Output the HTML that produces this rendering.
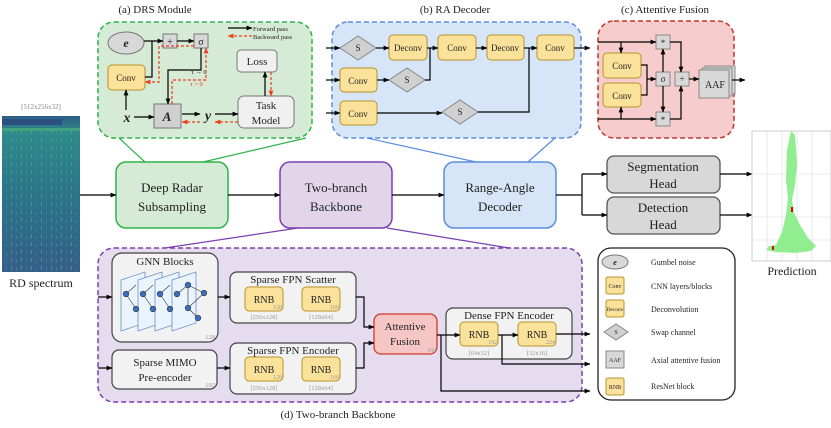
<!DOCTYPE html>
<html><head><meta charset="utf-8"><style>
html,body{margin:0;padding:0;background:#fff}
svg{display:block}
text{font-family:"Liberation Serif",serif;fill:#222}
</style></head><body>
<svg width="831" height="428" viewBox="0 0 831 428" xmlns="http://www.w3.org/2000/svg">
<defs>
<marker id="a" viewBox="0 0 10 10" refX="9" refY="5" markerWidth="5" markerHeight="5" orient="auto"><path d="M0,1 L10,5 L0,9 z" fill="#000"/></marker>
<marker id="r" viewBox="0 0 10 10" refX="9" refY="5" markerWidth="5" markerHeight="5" orient="auto"><path d="M0,1 L10,5 L0,9 z" fill="#f03c1e"/></marker>
<linearGradient id="sp" x1="0" y1="0" x2="0" y2="1"><stop offset="0" stop-color="#2c5e86"/><stop offset="0.1" stop-color="#2f8a8a"/><stop offset="0.5" stop-color="#2b7489"/><stop offset="1" stop-color="#355e8a"/></linearGradient>
<pattern id="dots" width="10" height="8" patternUnits="userSpaceOnUse"><rect x="1" y="2" width="1" height="4" fill="#4fb38a" opacity="0.6"/><rect x="6" y="4" width="1" height="3" fill="#45a88c" opacity="0.5"/></pattern>
</defs>

<text x="41" y="109" font-size="7" text-anchor="middle" style="fill:#888">[512x256x32]</text>
<rect x="2" y="116" width="78" height="156" fill="url(#sp)"/>
<rect x="2" y="130" width="78" height="142" fill="url(#dots)"/>
<rect x="2" y="119" width="60" height="6" fill="#2a4f80"/>
<rect x="2" y="128" width="78" height="3" fill="#4fae7e" opacity="0.7"/>
<text x="41" y="287" font-size="12" text-anchor="middle">RD spectrum</text>

<g stroke-width="1.2">
<line x1="119" y1="138" x2="145" y2="162" stroke="#2db34a"/>
<line x1="306" y1="138" x2="203" y2="162" stroke="#2db34a"/>
<line x1="367" y1="138" x2="476" y2="162" stroke="#5a8ee0"/>
<line x1="555" y1="138" x2="528" y2="162" stroke="#5a8ee0"/>
<line x1="298" y1="228" x2="165" y2="248" stroke="#7a3fb0"/>
<line x1="387" y1="228" x2="509" y2="248" stroke="#7a3fb0"/>
</g>

<rect x="116" y="162" width="112" height="66" rx="10" fill="#d5ebd5" stroke="#2db34a" stroke-width="1.5"/>
<text x="172" y="192" font-size="13" text-anchor="middle">Deep Radar</text>
<text x="172" y="211" font-size="13" text-anchor="middle">Subsampling</text>
<rect x="280" y="162" width="112" height="66" rx="10" fill="#e2d5ea" stroke="#7a3fb0" stroke-width="1.5"/>
<text x="336" y="192" font-size="13" text-anchor="middle">Two-branch</text>
<text x="336" y="211" font-size="13" text-anchor="middle">Backbone</text>
<rect x="444" y="162" width="112" height="66" rx="10" fill="#d6e5f7" stroke="#5a8ee0" stroke-width="1.5"/>
<text x="500" y="192" font-size="13" text-anchor="middle">Range-Angle</text>
<text x="500" y="211" font-size="13" text-anchor="middle">Decoder</text>
<rect x="607" y="156" width="113" height="37" rx="7" fill="#d8d8d8" stroke="#555" stroke-width="1.3"/>
<text x="663" y="171" font-size="13" text-anchor="middle">Segmentation</text>
<text x="663" y="188" font-size="13" text-anchor="middle">Head</text>
<rect x="607" y="197" width="113" height="37" rx="7" fill="#d8d8d8" stroke="#555" stroke-width="1.3"/>
<text x="663" y="212" font-size="13" text-anchor="middle">Detection</text>
<text x="663" y="229" font-size="13" text-anchor="middle">Head</text>

<g stroke="#000" stroke-width="1.2" fill="none">
<line x1="80" y1="195" x2="116" y2="195" marker-end="url(#a)"/>
<line x1="228" y1="195" x2="280" y2="195" marker-end="url(#a)"/>
<line x1="392" y1="195" x2="444" y2="195" marker-end="url(#a)"/>
<polyline points="556,195 582,195"/>
<polyline points="582,174 582,215"/>
<line x1="582" y1="174" x2="607" y2="174" marker-end="url(#a)"/>
<line x1="582" y1="215" x2="607" y2="215" marker-end="url(#a)"/>
<line x1="720" y1="174" x2="752" y2="174" marker-end="url(#a)"/>
<line x1="720" y1="215" x2="752" y2="215" marker-end="url(#a)"/>
</g>

<rect x="752" y="131" width="79" height="130" fill="#fff" stroke="#ccc"/>
<g stroke="#e4e4e4" stroke-width="0.8">
<line x1="767" y1="131" x2="767" y2="261"/><line x1="782" y1="131" x2="782" y2="261"/><line x1="797" y1="131" x2="797" y2="261"/><line x1="812" y1="131" x2="812" y2="261"/>
<line x1="752" y1="174" x2="831" y2="174"/><line x1="752" y1="217" x2="831" y2="217"/><line x1="752" y1="240" x2="831" y2="240"/>
</g>
<path d="M791,131 L795,135 L797,165 L795,185 L792,200 L794,213 L800,225 L808,238 L816,246 L811,251 L795,253 L775,252 L766,250 L769,246 L776,245 L782,232 L786,215 L788,198 L786,180 L787,150 Z" fill="#90ee90"/>
<rect x="791" y="207" width="2" height="5" fill="#e00"/>
<rect x="772" y="246" width="2" height="4" fill="#e00"/>
<text x="792" y="275" font-size="12" text-anchor="middle">Prediction</text>

<text x="155" y="13" font-size="11" text-anchor="middle">(a) DRS Module</text>
<rect x="98" y="22" width="214" height="116" rx="16" fill="#d5ebd5" stroke="#2db34a" stroke-width="1.5" stroke-dasharray="5,3"/>
<ellipse cx="126" cy="43" rx="18" ry="11" fill="#d8d8d8" stroke="#777"/>
<text x="126" y="47" font-size="12" text-anchor="middle" font-weight="bold" font-style="italic">e</text>
<rect x="163" y="34" width="14" height="14" fill="#d8d8d8" stroke="#777"/><text x="170" y="45" font-size="10" text-anchor="middle">+</text>
<rect x="194" y="34" width="14" height="14" fill="#d8d8d8" stroke="#777"/><text x="201" y="45" font-size="10" text-anchor="middle">σ</text>
<line x1="228" y1="28" x2="252" y2="28" stroke="#000" stroke-width="1.2" marker-end="url(#a)"/>
<text x="253" y="31" font-size="6.5">Forward pass</text>
<line x1="252" y1="36" x2="228" y2="36" stroke="#f03c1e" stroke-width="1.2" stroke-dasharray="3,2" marker-end="url(#r)"/>
<text x="253" y="39" font-size="6.5">Backward pass</text>
<rect x="108" y="65" width="37" height="25" rx="4" fill="#fbe29a" stroke="#b8932a"/>
<text x="126" y="81" font-size="9" text-anchor="middle">Conv</text>
<rect x="237" y="50" width="40" height="22" rx="4" fill="#f0f0f0" stroke="#777"/>
<text x="257" y="65" font-size="11" text-anchor="middle">Loss</text>
<rect x="238" y="96" width="56" height="32" rx="6" fill="#f0f0f0" stroke="#777"/>
<text x="266" y="109" font-size="11" text-anchor="middle">Task</text>
<text x="266" y="124" font-size="11" text-anchor="middle">Model</text>
<rect x="154" y="104" width="27" height="24" fill="#d0d0d0" stroke="#777"/>
<text x="167" y="121" font-size="13" text-anchor="middle" font-weight="bold" font-style="italic">A</text>
<text x="127" y="122" font-size="14" text-anchor="middle" font-weight="bold" font-style="italic">x</text>
<text x="208" y="120" font-size="14" text-anchor="middle" font-weight="bold" font-style="italic">y</text>
<text x="191" y="74" font-size="6.5">τ → 0</text>
<text x="190" y="86" font-size="6.5" style="fill:#f03c1e">τ &gt; 0</text>
<g stroke="#000" stroke-width="1.2" fill="none">
<line x1="144" y1="41" x2="163" y2="41" marker-end="url(#a)"/>
<polyline points="145,77 152,77 152,41"/>
<line x1="177" y1="41" x2="194" y2="41" marker-end="url(#a)"/>
<polyline points="201,48 201,70 168,70 168,104" marker-end="url(#a)"/>
<line x1="126" y1="110" x2="126" y2="90" marker-end="url(#a)"/>
<line x1="134" y1="117" x2="154" y2="117" marker-end="url(#a)"/>
<line x1="182" y1="114" x2="200" y2="114" marker-end="url(#a)"/>
<line x1="215" y1="114" x2="238" y2="114" marker-end="url(#a)"/>
<line x1="265" y1="96" x2="265" y2="72" marker-end="url(#a)"/>
</g>
<g stroke="#f03c1e" stroke-width="1.2" fill="none" stroke-dasharray="3,2">
<polyline points="172,104 172,80 206,80 206,48" marker-end="url(#r)"/>
<polyline points="194,46 159,46 159,82 145,82" marker-end="url(#r)"/>
<line x1="200" y1="122" x2="182" y2="122" marker-end="url(#r)"/>
<line x1="238" y1="122" x2="215" y2="122" marker-end="url(#r)"/>
<line x1="271" y1="72" x2="271" y2="96" marker-end="url(#r)"/>
</g>

<text x="455" y="13" font-size="11" text-anchor="middle">(b) RA Decoder</text>
<rect x="332" y="22" width="249" height="116" rx="16" fill="#d6e5f7" stroke="#5a8ee0" stroke-width="1.5" stroke-dasharray="5,3"/>
<g fill="#fbe29a" stroke="#b8932a">
<rect x="389" y="35" width="38" height="25" rx="4"/><rect x="438" y="35" width="38" height="25" rx="4"/>
<rect x="487" y="35" width="37" height="25" rx="4"/><rect x="537" y="35" width="37" height="25" rx="4"/>
<rect x="340" y="68" width="37" height="24" rx="4"/><rect x="340" y="101" width="37" height="24" rx="4"/>
</g>
<g fill="#d0d0d0" stroke="#888">
<path d="M340,48 L358,36 L376,48 L358,60 Z"/><path d="M389,80 L407,68 L425,80 L407,92 Z"/><path d="M442,112 L460,100 L478,112 L460,124 Z"/>
</g>
<g font-size="9" text-anchor="middle">
<text x="408" y="51">Deconv</text><text x="457" y="51">Conv</text><text x="505" y="51">Deconv</text><text x="555" y="51">Conv</text>
<text x="358" y="84">Conv</text><text x="358" y="117">Conv</text>
<text x="358" y="51">S</text><text x="407" y="83">S</text><text x="460" y="115">S</text>
</g>
<g stroke="#000" stroke-width="1.2" fill="none">
<line x1="326" y1="48" x2="340" y2="48" marker-end="url(#a)"/>
<line x1="326" y1="80" x2="340" y2="80" marker-end="url(#a)"/>
<line x1="326" y1="113" x2="340" y2="113" marker-end="url(#a)"/>
<line x1="376" y1="48" x2="389" y2="48" marker-end="url(#a)"/>
<line x1="427" y1="48" x2="438" y2="48" marker-end="url(#a)"/>
<line x1="476" y1="48" x2="487" y2="48" marker-end="url(#a)"/>
<line x1="524" y1="48" x2="537" y2="48" marker-end="url(#a)"/>
<line x1="377" y1="80" x2="389" y2="80" marker-end="url(#a)"/>
<polyline points="425,80 430,80 430,48"/>
<line x1="377" y1="113" x2="442" y2="113" marker-end="url(#a)"/>
<polyline points="478,112 529,112 529,48"/>
<line x1="574" y1="48" x2="590" y2="48" marker-end="url(#a)"/>
</g>

<text x="665" y="13" font-size="11" text-anchor="middle">(c) Attentive Fusion</text>
<rect x="598" y="21" width="136" height="117" rx="16" fill="#f7cccc" stroke="#c0392b" stroke-width="1.5" stroke-dasharray="5,3"/>
<g fill="#fbe29a" stroke="#b8932a">
<rect x="603" y="53" width="38" height="25" rx="4"/><rect x="603" y="83" width="38" height="24" rx="4"/>
</g>
<g fill="#d8d8d8" stroke="#888">
<rect x="656" y="35" width="14" height="14"/><rect x="656" y="72" width="14" height="14"/><rect x="675" y="72" width="14" height="14"/><rect x="656" y="112" width="14" height="14"/>
<rect x="705" y="66" width="30" height="28"/><rect x="702" y="68" width="30" height="28"/><rect x="699" y="70" width="30" height="28"/>
</g>
<g font-size="9" text-anchor="middle">
<text x="622" y="69">Conv</text><text x="622" y="99">Conv</text>
<text x="663" y="46">*</text><text x="663" y="82">σ</text><text x="682" y="82">+</text><text x="663" y="123">*</text>
<text x="715" y="88" font-size="10">AAF</text>
</g>
<g stroke="#000" stroke-width="1.2" fill="none">
<line x1="598" y1="42" x2="656" y2="42" marker-end="url(#a)"/>
<line x1="621" y1="42" x2="621" y2="53" marker-end="url(#a)"/>
<line x1="598" y1="119" x2="656" y2="119" marker-end="url(#a)"/>
<line x1="621" y1="119" x2="621" y2="107" marker-end="url(#a)"/>
<polyline points="641,65 647,65 647,95 641,95"/>
<line x1="647" y1="79" x2="656" y2="79" marker-end="url(#a)"/>
<line x1="663" y1="72" x2="663" y2="49" marker-end="url(#a)"/>
<line x1="663" y1="86" x2="663" y2="112" marker-end="url(#a)"/>
<polyline points="670,42 681,42 681,72" marker-end="url(#a)"/>
<polyline points="670,119 681,119 681,86" marker-end="url(#a)"/>
<line x1="689" y1="79" x2="699" y2="79" marker-end="url(#a)"/>
<line x1="732" y1="80" x2="745" y2="80" marker-end="url(#a)"/>
</g>

<rect x="98" y="248" width="484" height="154" rx="16" fill="#e6dcef" stroke="#7a3fb0" stroke-width="1.5" stroke-dasharray="5,3"/>
<text x="338" y="418" font-size="11" text-anchor="middle">(d) Two-branch Backbone</text>
<rect x="112" y="253" width="106" height="89" rx="10" fill="#f2f2f2" stroke="#444" stroke-width="1.2"/>
<text x="165" y="265" font-size="11" text-anchor="middle">GNN Blocks</text>
<text x="215" y="339" font-size="6.5" text-anchor="end" style="fill:#999">128</text>
<g stroke="#6a8fc8" fill="#e9f4fc" stroke-width="0.8">
<path d="M121,280 L145,272 L145,323 L121,331 Z"/><path d="M138,280 L162,272 L162,323 L138,331 Z"/>
<path d="M155,280 L179,272 L179,323 L155,331 Z"/><path d="M172,280 L196,272 L196,323 L172,331 Z"/>
</g>
<g stroke="#333" stroke-width="0.6" fill="#3a6fc4">
<line x1="126" y1="294" x2="136" y2="285"/><line x1="126" y1="294" x2="136" y2="309"/>
<line x1="143" y1="294" x2="153" y2="285"/><line x1="143" y1="294" x2="153" y2="309"/>
<line x1="160" y1="294" x2="170" y2="285"/><line x1="160" y1="294" x2="170" y2="309"/>
<line x1="177" y1="294" x2="188" y2="285"/><line x1="188" y1="285" x2="188" y2="308"/><line x1="188" y1="285" x2="204" y2="293"/><line x1="188" y1="308" x2="204" y2="293"/><line x1="188" y1="308" x2="198" y2="318"/>
<circle cx="126" cy="294" r="2.8"/><circle cx="136" cy="309" r="2.8"/>
<circle cx="143" cy="294" r="2.8"/><circle cx="153" cy="309" r="2.8"/>
<circle cx="160" cy="294" r="2.8"/><circle cx="170" cy="309" r="2.8"/>
<circle cx="177" cy="294" r="2.8"/><circle cx="188" cy="285" r="2.8"/><circle cx="188" cy="308" r="2.8"/><circle cx="204" cy="293" r="2.8"/><circle cx="198" cy="318" r="2.8"/>
</g>
<rect x="112" y="350" width="105" height="39" rx="7" fill="#f2f2f2" stroke="#444" stroke-width="1.2"/>
<text x="165" y="366" font-size="11" text-anchor="middle">Sparse MIMO</text>
<text x="165" y="381" font-size="11" text-anchor="middle">Pre-encoder</text>
<text x="215" y="387" font-size="6.5" text-anchor="end" style="fill:#999">192</text>

<rect x="230" y="272" width="126" height="51" rx="7" fill="#f2f2f2" stroke="#444" stroke-width="1.2"/>
<text x="293" y="283" font-size="11" text-anchor="middle">Sparse FPN Scatter</text>
<rect x="230" y="343" width="126" height="51" rx="7" fill="#f2f2f2" stroke="#444" stroke-width="1.2"/>
<text x="293" y="354" font-size="11" text-anchor="middle">Sparse FPN Encoder</text>
<rect x="446" y="308" width="126" height="51" rx="7" fill="#f2f2f2" stroke="#444" stroke-width="1.2"/>
<text x="509" y="319" font-size="11" text-anchor="middle">Dense FPN Encoder</text>
<g fill="#fbe29a" stroke="#b8932a">
<rect x="245" y="287" width="38" height="24" rx="4"/><rect x="302" y="287" width="38" height="24" rx="4"/>
<rect x="245" y="357" width="38" height="24" rx="4"/><rect x="302" y="357" width="38" height="24" rx="4"/>
<rect x="460" y="322" width="38" height="24" rx="4"/><rect x="518" y="322" width="38" height="24" rx="4"/>
</g>
<g font-size="10" text-anchor="middle">
<text x="264" y="303">RNB</text><text x="321" y="303">RNB</text>
<text x="264" y="373">RNB</text><text x="321" y="373">RNB</text>
<text x="479" y="338">RNB</text><text x="537" y="338">RNB</text>
</g>
<g font-size="6" text-anchor="end">
<text x="282" y="309" style="fill:#999">128</text><text x="339" y="309" style="fill:#999">160</text>
<text x="282" y="379" style="fill:#999">128</text><text x="339" y="379" style="fill:#999">160</text>
<text x="497" y="344" style="fill:#999">192</text><text x="555" y="344" style="fill:#999">224</text>
</g>
<g font-size="6.5" text-anchor="middle">
<text x="264" y="319" style="fill:#999">[256x128]</text><text x="321" y="319" style="fill:#999">[128x64]</text>
<text x="264" y="390" style="fill:#999">[256x128]</text><text x="321" y="390" style="fill:#999">[128x64]</text>
<text x="479" y="355" style="fill:#999">[64x32]</text><text x="537" y="355" style="fill:#999">[32x16]</text>
</g>
<rect x="374" y="314" width="63" height="40" rx="7" fill="#f5c6c4" stroke="#d0392b" stroke-width="1.3"/>
<text x="405" y="330" font-size="11" text-anchor="middle">Attentive</text>
<text x="405" y="345" font-size="11" text-anchor="middle">Fusion</text>
<text x="436" y="352" font-size="6" text-anchor="end" style="fill:#999">160</text>
<g stroke="#000" stroke-width="1.2" fill="none">
<line x1="98" y1="297" x2="112" y2="297" marker-end="url(#a)"/>
<line x1="98" y1="368" x2="112" y2="368" marker-end="url(#a)"/>
<line x1="218" y1="297" x2="230" y2="297" marker-end="url(#a)"/>
<line x1="217" y1="368" x2="230" y2="368" marker-end="url(#a)"/>
<polyline points="356,297 364,297 364,327 374,327" marker-end="url(#a)"/>
<polyline points="356,368 364,368 364,343 374,343" marker-end="url(#a)"/>
<line x1="437" y1="335" x2="460" y2="335" marker-end="url(#a)"/>
<polyline points="441,335 441,391 590,391" marker-end="url(#a)"/>
<line x1="498" y1="335" x2="518" y2="335" marker-end="url(#a)"/>
<polyline points="502,335 502,364 590,364" marker-end="url(#a)"/>
<line x1="556" y1="334" x2="590" y2="334" marker-end="url(#a)"/>
</g>

<rect x="598" y="248" width="137" height="152" rx="13" fill="#fff" stroke="#222" stroke-width="1.3"/>
<ellipse cx="615" cy="262" rx="13" ry="7" fill="#d8d8d8" stroke="#777"/>
<text x="615" y="265" font-size="8" text-anchor="middle" font-weight="bold" font-style="italic">e</text>
<g fill="#fbe29a" stroke="#b8932a">
<rect x="606" y="277" width="18" height="17" rx="2"/>
<rect x="606" y="300" width="18" height="17" rx="2"/>
<rect x="606" y="378" width="18" height="17" rx="2"/>
</g>
<path d="M604,332 L616,324 L628,332 L616,340 Z" fill="#d0d0d0" stroke="#888"/>
<rect x="606" y="351" width="18" height="17" fill="#d8d8d8" stroke="#888"/>
<g font-size="6" text-anchor="middle">
<text x="615" y="288">Conv</text><text x="615" y="311" font-size="5.5">Deconv</text><text x="616" y="334">S</text>
<text x="615" y="362">AAF</text><text x="615" y="389">RNB</text>
</g>
<g font-size="8">
<text x="651" y="265">Gumbel noise</text>
<text x="651" y="289">CNN layers/blocks</text>
<text x="651" y="312">Deconvolution</text>
<text x="651" y="335">Swap channel</text>
<text x="651" y="363">Axial attentive fusion</text>
<text x="651" y="389">ResNet block</text>
</g>
</svg>
</body></html>
